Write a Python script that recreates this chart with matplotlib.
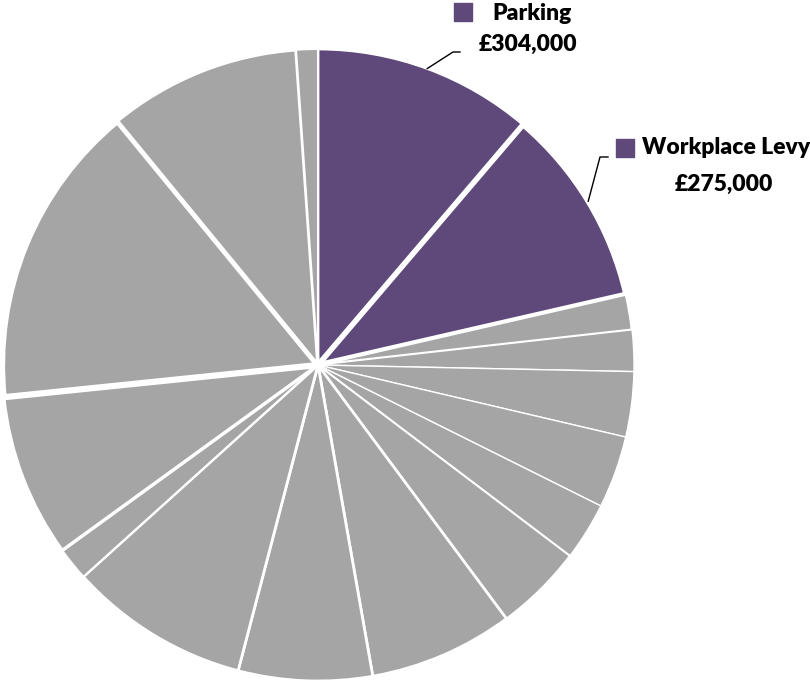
import numpy as np
import matplotlib
matplotlib.use("Agg")
import matplotlib.pyplot as plt

# income sources in £, clockwise from 12 o'clock
sources = ["Parking", "Workplace Levy", "Other 1", "Other 2", "Other 3", "Other 4",
           "Other 5", "Other 6", "Other 7", "Other 8", "Other 9", "Other 10",
           "Other 11", "Other 12", "Other 13", "Other 14"]
amounts = [304000, 275000, 49000, 57000, 90000, 100000, 80000, 122000,
           200000, 185000, 250000, 46000, 226000, 424000, 266000, 30000]
highlight = ["Parking", "Workplace Levy"]

purple = "#5F497A"
grey = "#A5A5A5"
colors = [purple if s in highlight else grey for s in sources]
edge_widths = [2, 4, 2, 1, 1, 1, 1, 1.5, 2, 2, 2, 1.5, 2.5, 4.5, 2.5, 1.5]

W, H = 810, 684
fig = plt.figure(figsize=(W / 100, H / 100), dpi=100)
ax = fig.add_axes([0, 0, 1, 1])

cx, cy, r = 318, H - 365, 316
wedges, _ = ax.pie(amounts, colors=colors, startangle=90, counterclock=False,
                   center=(cx, cy), radius=r, frame=True,
                   wedgeprops=dict(edgecolor="white"))
for w, lw in zip(wedges, edge_widths):
    w.set_linewidth(lw)
ax.set_xlim(0, W)
ax.set_ylim(0, H)
ax.set_aspect("equal")
ax.axis("off")

font = dict(family="Lato", fontweight="heavy", fontsize=16.5, color="black")

# label layout (pixels from top-left): name start, value centre, marker, leader elbow
name_pos = {"Parking": (492, 14), "Workplace Levy": (642, 148)}
value_pos = {"Parking": (528, 44), "Workplace Levy": (724, 184)}
marker_pos = {"Parking": (463, 12), "Workplace Levy": (625, 148)}
elbows = {"Parking": [(460, 52), (453, 52)], "Workplace Levy": [(608, 157), (600, 157)]}

for w, name, val in zip(wedges, sources, amounts):
    if name not in highlight:
        continue
    mid = np.deg2rad((w.theta1 + w.theta2) / 2)
    px, py = cx + r * np.cos(mid), cy + r * np.sin(mid)
    nx, ny = name_pos[name]
    vx, vy = value_pos[name]
    mx, my = marker_pos[name]
    ax.text(nx, H - ny, name, ha="left", va="center", **font)
    ax.text(vx, H - vy, "£{:,}".format(val), ha="center", va="center", **font)
    ax.scatter([mx], [H - my], marker="s", s=150, color=purple, zorder=5)
    (x1, y1), (x2, y2) = elbows[name]
    ax.plot([x1, x2, px], [H - y1, H - y2, py], color="black", lw=1)

fig.savefig("out.png", dpi=100)
